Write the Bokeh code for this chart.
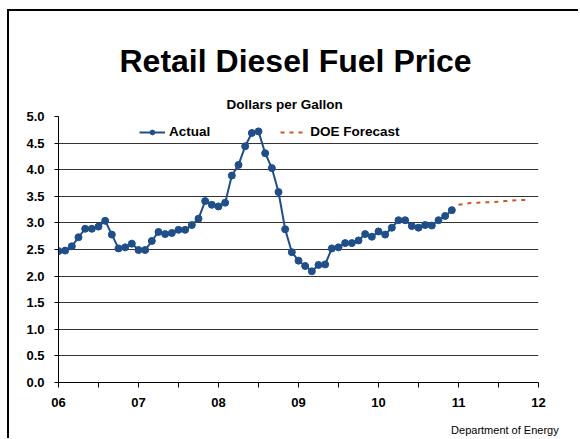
from bokeh.plotting import figure
from bokeh.models import (Range1d, FixedTicker, Title, Legend, LegendItem,
                          LinearAxis, ColumnDataSource)
from bokeh.embed import file_html
from bokeh.resources import INLINE

# ---- data ----
start_year = 2006
actual_prices = [2.47, 2.48, 2.56, 2.73, 2.89, 2.89, 2.93, 3.04, 2.78, 2.52, 2.54, 2.61,
                 2.49, 2.49, 2.66, 2.83, 2.79, 2.81, 2.87, 2.87, 2.96, 3.08, 3.41, 3.34,
                 3.31, 3.38, 3.89, 4.09, 4.44, 4.69, 4.72, 4.31, 4.03, 3.58, 2.88, 2.45,
                 2.29, 2.19, 2.09, 2.21, 2.22, 2.52, 2.54, 2.62, 2.62, 2.67, 2.79, 2.74,
                 2.84, 2.78, 2.91, 3.05, 3.05, 2.94, 2.91, 2.96, 2.95, 3.05, 3.13, 3.24]
forecast_start_year = 2011
forecast_prices = [3.34, 3.36, 3.38, 3.38, 3.39, 3.39, 3.40, 3.41, 3.42, 3.43, 3.43]
year_ticks = [2006, 2007, 2008, 2009, 2010, 2011, 2012]
year_labels = ["06", "07", "08", "09", "10", "11", "12"]
half_year_ticks = [2006.5, 2007.5, 2008.5, 2009.5, 2010.5, 2011.5]
price_ticks = [0.0, 0.5, 1.0, 1.5, 2.0, 2.5, 3.0, 3.5, 4.0, 4.5, 5.0]
source_text = "Department of Energy"

actual_x = [start_year + i / 12 for i in range(len(actual_prices))]
forecast_x = [forecast_start_year + i / 12 for i in range(len(forecast_prices))]

FONT = "Liberation Sans"
BLUE = "#1F4E89"
ORANGE = "#D0561F"

p = figure(width=569, height=427, output_backend="svg", toolbar_location=None,
           x_range=Range1d(2006, 2012), y_range=Range1d(0, 5),
           min_border_left=49, min_border_right=40, min_border_top=105,
           min_border_bottom=56, title="Retail Diesel Fuel Price")
# slide frame: only its top and left edges fall inside the window
p.styles = {"position": "relative", "left": "9px", "top": "11px",
            "box-shadow": "0 -2px 0 0 black, -2px 0 0 0 black, -2px -2px 0 0 black"}
p.outline_line_color = None
p.background_fill_color = "white"
p.border_fill_color = "white"

# titles (the title added later sits nearer the frame)
p.title.align = "left"
p.title.offset = 61
p.title.text_font = FONT
p.title.text_font_size = "32px"
p.title.text_font_style = "bold"
p.title.text_color = "black"
p.title.standoff = 22
sub_title = Title(text="Dollars per Gallon", align="left", offset=168,
                  text_font=FONT, text_font_size="13.5px", text_font_style="bold",
                  text_color="black", standoff=10)
p.add_layout(sub_title, "above")

# axes
xa = p.xaxis[0]
xa.ticker = FixedTicker(ticks=year_ticks, minor_ticks=half_year_ticks)
xa.major_label_overrides = {t: l for t, l in zip(year_ticks, year_labels)}
xa.major_tick_in = 0
xa.major_tick_out = 5
xa.minor_tick_in = 0
xa.minor_tick_out = 5
xa.major_label_standoff = 10
xa.major_label_text_font = FONT
xa.major_label_text_font_size = "13px"
xa.major_label_text_font_style = "bold"
xa.major_label_text_color = "black"
xa.axis_line_color = "black"

# source note, written as the single label of a bare axis below the x axis
p.extra_x_ranges = {"note": Range1d(0, 1)}
note_axis = LinearAxis(x_range_name="note", ticker=FixedTicker(ticks=[0.93]),
                       major_label_overrides={0.93: source_text},
                       axis_line_color=None, major_tick_line_color=None,
                       minor_tick_line_color=None, major_tick_out=0,
                       major_label_standoff=14, major_label_text_font=FONT,
                       major_label_text_font_size="11px",
                       major_label_text_font_style="normal",
                       major_label_text_color="black")
p.add_layout(note_axis, "below")

ya = p.yaxis[0]
ya.ticker = FixedTicker(ticks=price_ticks, minor_ticks=[])
ya.major_label_overrides = {t: f"{t:.1f}" for t in price_ticks}
ya.major_tick_in = 0
ya.major_tick_out = 4
ya.minor_tick_out = 0
ya.major_label_standoff = 10
ya.major_label_text_font = FONT
ya.major_label_text_font_size = "13px"
ya.major_label_text_font_style = "bold"
ya.major_label_text_color = "black"
ya.axis_line_color = "black"

p.xgrid.grid_line_color = None
p.ygrid.ticker = FixedTicker(ticks=price_ticks[1:])
p.ygrid.grid_line_color = "black"
p.ygrid.grid_line_alpha = 0.8
p.ygrid.grid_line_width = 1

# series
src = ColumnDataSource(dict(x=actual_x, y=actual_prices))
line_r = p.line("x", "y", source=src, line_color=BLUE, line_width=2)
pts_r = p.scatter("x", "y", source=src, size=7, fill_color=BLUE, line_color=BLUE)
fsrc = ColumnDataSource(dict(x=forecast_x, y=forecast_prices))
fc_r = p.line("x", "y", source=fsrc, line_color=ORANGE, line_width=2, line_dash="4 5")

legend = Legend(items=[LegendItem(label="Actual", renderers=[line_r, pts_r]),
                       LegendItem(label="DOE Forecast", renderers=[fc_r])],
                location=(81, 243), orientation="horizontal", spacing=70,
                glyph_width=26, glyph_height=12, label_standoff=4, label_height=12,
                padding=0, margin=0, border_line_color=None,
                background_fill_alpha=0, label_text_font=FONT,
                label_text_color="black",
                label_text_font_size="13.5px", label_text_font_style="bold")
p.add_layout(legend)

open("out.html", "w").write(file_html(p, INLINE))
